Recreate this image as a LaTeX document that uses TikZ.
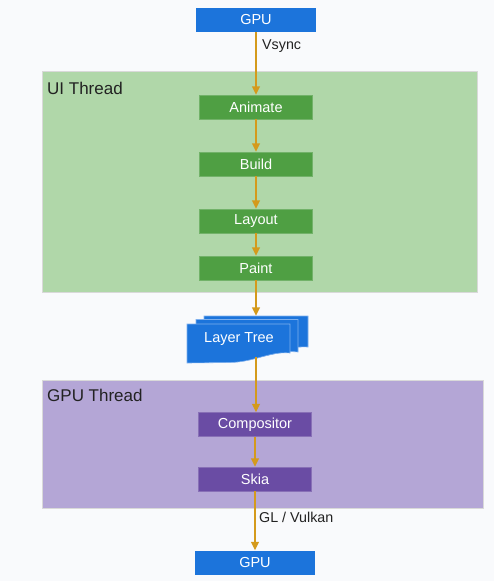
\documentclass[tikz,border=0pt]{standalone}
\usepackage{fontspec}
\setmainfont{Liberation Sans}
\usetikzlibrary{arrows.meta}
\definecolor{bgc}{HTML}{F9FAFC}
\definecolor{gpublue}{HTML}{1C74DB}
\definecolor{ltedge}{HTML}{7FB0EE}
\definecolor{uibg}{HTML}{B0D7A9}
\definecolor{uinode}{HTML}{4F9F43}
\definecolor{gpubg}{HTML}{B4A6D6}
\definecolor{gpunode}{HTML}{6A4CA4}
\definecolor{arrowc}{HTML}{D49A1C}
\definecolor{labelc}{HTML}{222222}
\begin{document}
\begin{tikzpicture}[x=1pt,y=-1pt,
  box/.style={minimum width=113pt,minimum height=24pt,inner sep=0pt,text=white,font=\fontsize{14.5}{16}\selectfont},
  gpubox/.style={box,fill=gpublue,minimum width=120pt,minimum height=24pt},
  uibox/.style={box,fill=uinode,draw=uinode!80!white,line width=0.4pt},
  gtbox/.style={box,fill=gpunode,draw=gpunode!80!white,line width=0.4pt},
  region/.style={draw=white!85!black,line width=0.4pt},
  title/.style={anchor=base west,inner sep=0pt,text=labelc,font=\fontsize{17}{19}\selectfont},
  lbl/.style={anchor=base west,inner sep=0pt,text=labelc,font=\fontsize{14.3}{16}\selectfont},
  conn/.style={draw=arrowc,line width=1.5pt,-{Triangle[width=8pt,length=8.5pt]}},
  layer/.style={fill=gpublue,draw=ltedge,line width=0.6pt}
]
\fill[bgc] (0,0) rectangle (494,581);
\useasboundingbox (0,0) rectangle (494,581);

% regions
\fill[uibg,region] (42,71) rectangle (477,292);
\fill[gpubg,region] (42,380) rectangle (483,508);
\node[title] (uit) at (47,94) {UI Thread};
\node[title] (gpt) at (47,401) {GPU Thread};

% nodes
\node[gpubox] (gputop) at (256,20) {GPU};
\node[uibox] (animate) at (256,107) {Animate};
\node[uibox] (build) at (256,164) {Build};
\node[uibox] (layout) at (256,221) {Layout};
\node[uibox] (paint) at (256,268) {Paint};
\node[gtbox] (comp) at (255,424.5) {Compositor};
\node[gtbox] (skia) at (255,479) {Skia};
\node[gpubox] (gpubot) at (255,562.5) {GPU};

% layer tree (stacked documents)
\path[layer] (204,316) -- (308,316) -- (308,347) .. controls (290,346) and (280,352) .. (265,354) -- (204,354) -- cycle;
\path[layer] (196,319.5) -- (298,319.5) -- (298,352) .. controls (280,350) and (268,357) .. (250,358) -- (196,358) -- cycle;
\path[layer] (187,324) -- (290,324) -- (290,353) .. controls (270,351) and (255,362) .. (230,362.5) -- (187,363) -- cycle;
\node[inner sep=0pt,minimum width=121pt,minimum height=41pt] (lt) at (247.5,336.5) {};
\node[inner sep=0pt,text=white,font=\fontsize{14.5}{16}\selectfont] (lttext) at (239,339) {Layer Tree};
\coordinate (ltbot) at (256,357);

% connectors
\draw[conn] (gputop.south -| animate) -- (animate.north);
\draw[conn] (animate) ++(0,12) -- (build.north);
\draw[conn] (build) ++(0,12) -- (layout.north);
\draw[conn] (layout) ++(0,12) -- (paint.north);
\draw[conn] (paint.south) -- (paint.south |- lt.north);
\draw[conn] (ltbot) -- (ltbot |- comp.north);
\draw[conn] (comp.south) -- (skia.north);
\draw[conn] (skia.south) -- (gpubot.north);

% labels
\node[lbl] (vsync) at (262,49) {Vsync};
\node[lbl] (glv) at (259,522) {GL / Vulkan};
\end{tikzpicture}
\end{document}
